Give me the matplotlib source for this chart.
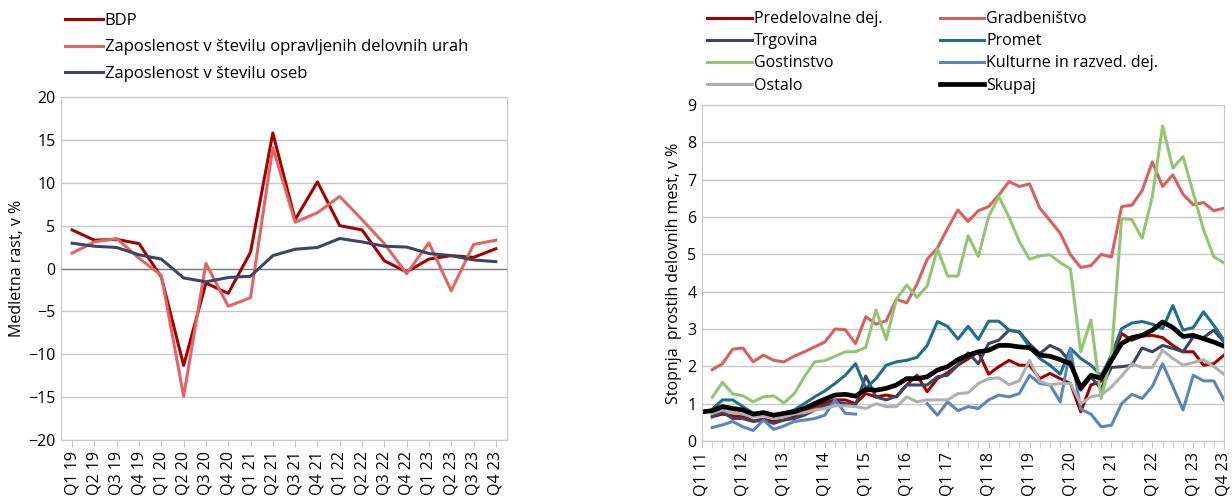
import numpy as np
import matplotlib.pyplot as plt

plt.rcParams['font.family'] = ['Open Sans', 'DejaVu Sans']

# levo: medletna rast (cetrtletja)
kvartali = ['Q1 19', 'Q2 19', 'Q3 19', 'Q4 19', 'Q1 20', 'Q2 20', 'Q3 20', 'Q4 20',
            'Q1 21', 'Q2 21', 'Q3 21', 'Q4 21', 'Q1 22', 'Q2 22', 'Q3 22', 'Q4 22',
            'Q1 23', 'Q2 23', 'Q3 23', 'Q4 23']
bdp = [4.5, 3.3, 3.4, 2.9, -1.0, -11.3, -1.7, -2.9, 1.9, 15.8, 5.7, 10.1,
       5.0, 4.5, 0.9, -0.4, 1.1, 1.5, 1.3, 2.3]
ure = [1.8, 3.1, 3.5, 1.2, -0.8, -14.9, 0.6, -4.4, -3.4, 14.1, 5.4, 6.5,
       8.4, 5.7, 2.9, -0.6, 3.0, -2.6, 2.8, 3.3]
osebe = [2.95, 2.6, 2.45, 1.6, 1.1, -1.1, -1.55, -1.05, -0.9, 1.5, 2.25, 2.45,
         3.5, 3.1, 2.6, 2.5, 1.75, 1.5, 1.0, 0.8]

# desno: stopnja prostih delovnih mest, Q1 11 - Q4 23
q_desno = [f'Q{q} {l}' for l in range(11, 24) for q in range(1, 5)]
nan = np.nan
predelovalne = [nan, 0.65, 0.72, 0.67, 0.65, 0.54, 0.58, 0.52, 0.56, 0.65, 0.76, 0.92, 1.02,
                1.1, 1.1, 1.0, 1.27, 1.18, 1.23, 1.18, 1.5, 1.76, 1.32, 1.67, 1.83, 2.03,
                2.2, 2.39, 1.79, 1.99, 2.16, 2.03, 2.03, 1.67, 1.81, 1.67, 1.54, 0.78, 1.5,
                1.6, 2.2, 2.88, 2.7, 2.81, 2.83, 2.77, 2.56, 2.39, 2.39, 2.03, 2.07, 2.3]
gradbenistvo = [nan, 1.91, 2.07, 2.46, 2.49, 2.12, 2.30, 2.16, 2.12, 2.27, 2.39, 2.52, 2.65,
                3.0, 2.98, 2.61, 3.33, 3.13, 3.22, 3.8, 3.7, 4.2, 4.87, 5.17, 5.7, 6.19,
                5.88, 6.17, 6.28, 6.59, 6.95, 6.82, 6.89, 6.24, 5.91, 5.57, 4.99, 4.65, 4.70,
                5.0, 4.93, 6.28, 6.32, 6.71, 7.48, 6.82, 7.13, 6.61, 6.33, 6.39, 6.17, 6.24]
trgovina = [nan, 0.65, 0.78, 0.6, 0.6, 0.52, 0.56, 0.47, 0.56, 0.6, 0.69, 0.83, 0.95,
            1.05, 1.0, 0.96, 1.74, 1.18, 1.1, 1.2, 1.5, 1.5, 1.5, 1.72, 1.76, 2.03,
            2.36, 2.07, 2.61, 2.7, 2.97, 2.92, 2.6, 2.34, 2.56, 2.43, 2.12, 1.36, 1.72,
            1.4, 1.97, 1.99, 2.03, 2.49, 2.39, 2.56, 2.48, 2.39, 2.79, 2.77, 2.97, 2.65]
promet = [nan, 0.85, 1.1, 1.1, 0.92, 0.74, 0.74, 0.65, 0.74, 0.83, 1.0, 1.18, 1.34,
          1.54, 1.76, 2.07, 1.41, 1.67, 2.03, 2.12, 2.16, 2.24, 2.56, 3.2, 3.07, 2.73,
          3.07, 2.72, 3.21, 3.21, 2.97, 2.92, 2.52, 2.21, 2.03, 1.79, 2.48, 2.21, 2.03,
          1.75, 2.3, 3.01, 3.16, 3.2, 3.13, 3.01, 3.63, 2.97, 3.04, 3.46, 3.1, 2.7]
gostinstvo = [nan, 1.17, 1.57, 1.26, 1.21, 1.05, 1.18, 1.21, 1.02, 1.26, 1.72, 2.12, 2.15,
              2.27, 2.39, 2.39, 2.51, 3.51, 2.72, 3.8, 4.18, 3.85, 4.15, 5.15, 4.42, 4.42,
              5.5, 4.94, 6.01, 6.55, 6.0, 5.35, 4.87, 4.96, 4.99, 4.78, 4.61, 2.39, 3.24,
              1.14, 2.28, 5.96, 5.93, 5.43, 6.55, 8.44, 7.31, 7.62, 6.64, 5.66, 4.94, 4.77]
kulturne = [nan, 0.36, 0.43, 0.52, 0.38, 0.28, 0.56, 0.31, 0.4, 0.52, 0.56, 0.6, 0.69,
            1.1, 0.74, 0.72, nan, nan, nan, nan, nan, nan, 1.0, 0.69, 1.05, 0.81,
            0.92, 0.87, 1.1, 1.23, 1.18, 1.27, 1.76, 1.54, 1.5, 1.05, 2.47, 0.85, 0.72,
            0.38, 0.42, 1.0, 1.25, 1.14, 1.46, 2.07, 1.46, 0.83, 1.76, 1.61, 1.61, 1.1]
ostalo = [nan, 0.74, 0.83, 0.76, 0.72, 0.65, 0.67, 0.6, 0.65, 0.72, 0.76, 0.83, 0.87,
          0.94, 0.94, 0.92, 0.87, 1.0, 0.92, 0.92, 1.18, 1.05, 1.1, 1.1, 1.1, 1.27,
          1.29, 1.54, 1.67, 1.69, 1.51, 1.61, 2.16, 1.6, 1.5, 1.54, 1.54, 1.0, 1.18,
          1.23, 1.45, 1.74, 2.07, 1.97, 1.97, 2.43, 2.21, 2.03, 2.1, 2.18, 1.99, 1.79]
skupaj = [0.78, 0.81, 0.92, 0.87, 0.83, 0.72, 0.76, 0.69, 0.74, 0.78, 0.87, 1.0, 1.12,
          1.23, 1.25, 1.2, 1.38, 1.36, 1.41, 1.5, 1.67, 1.67, 1.72, 1.9, 1.99, 2.18,
          2.3, 2.39, 2.43, 2.56, 2.56, 2.52, 2.5, 2.3, 2.27, 2.18, 2.07, 1.42, 1.76,
          1.68, 2.16, 2.61, 2.77, 2.83, 2.97, 3.19, 3.04, 2.8, 2.83, 2.74, 2.65, 2.54]

grid_c = '#c8c8c8'
fs = 11.5

fig = plt.figure(figsize=(12.32, 4.96), dpi=100)
ax1 = fig.add_axes([0.0495, 0.1129, 0.362, 0.6915])
ax2 = fig.add_axes([0.5698, 0.111, 0.4237, 0.677])

# ---- levi graf
x1 = np.arange(len(kvartali))
ax1.plot(x1, bdp, color='#a50000', lw=2.2, label='BDP')
ax1.plot(x1, ure, color='#e06666', lw=2.2, label='Zaposlenost v številu opravljenih delovnih urah')
ax1.plot(x1, osebe, color='#3b4663', lw=2.2, label='Zaposlenost v številu oseb')
ax1.axhline(0, color='#808080', lw=1, zorder=1)
ax1.set_xlim(-0.5, len(kvartali) - 0.5)
ax1.set_ylim(-20, 20)
ax1.set_yticks(np.arange(-20, 21, 5))
ax1.set_xticks(x1)
ax1.set_xticklabels(kvartali, rotation=90, fontsize=fs)
ax1.set_ylabel('Medletna rast, v %', fontsize=fs, labelpad=2)
ax1.grid(axis='y', color=grid_c, lw=1)
ax1.set_axisbelow(True)
ax1.legend(loc='upper left', bbox_to_anchor=(0.047, 0.987), bbox_transform=fig.transFigure,
           frameon=False, fontsize=12, handlelength=2.3, handletextpad=0.1,
           labelspacing=0.62, borderaxespad=0)

# ---- desni graf
x2 = np.arange(len(q_desno))
serije = [
    (predelovalne, 'Predelovalne dej.', '#a50000', 2.2),
    (gradbenistvo, 'Gradbeništvo', '#d9605e', 2.2),
    (trgovina, 'Trgovina', '#3b4663', 2.2),
    (promet, 'Promet', '#1f6f8b', 2.2),
    (gostinstvo, 'Gostinstvo', '#93c572', 2.2),
    (kulturne, 'Kulturne in razved. dej.', '#5b85bd', 2.2),
    (ostalo, 'Ostalo', '#b0b0b0', 2.2),
    (skupaj, 'Skupaj', '#000000', 3.4),
]
crte = []
for vals, lab, col, lw in serije:
    crte += ax2.plot(x2, vals, color=col, lw=lw, label=lab)
ax2.set_xlim(0, len(q_desno) - 1)
ax2.set_ylim(0, 9)
ax2.set_yticks(np.arange(0, 10, 1))
ax2.set_xticks(x2, minor=True)
major = list(range(0, len(q_desno), 4)) + [len(q_desno) - 1]
ax2.set_xticks(major)
ax2.set_xticklabels([q_desno[i] for i in major], rotation=90, fontsize=fs)
ax2.set_ylabel('Stopnja  prostih delovnih mest, v %', fontsize=fs, labelpad=4)
ax2.grid(axis='y', color=grid_c, lw=1)
ax2.set_axisbelow(True)
# legenda po vrsticah (dva stolpca)
red = crte[0::2] + crte[1::2]
ax2.legend(red, [c.get_label() for c in red], loc='upper left',
           bbox_to_anchor=(0.569, 0.99), bbox_transform=fig.transFigure,
           frameon=False, fontsize=11.5, ncol=2, handlelength=2.8, handletextpad=0.1,
           labelspacing=0.38, columnspacing=3.6, borderaxespad=0)

for ax in (ax1, ax2):
    for s in ax.spines.values():
        s.set_color(grid_c)
    ax.tick_params(axis='y', length=0, labelsize=fs, pad=4)
    ax.tick_params(axis='x', which='both', length=5, color=grid_c, pad=3)

fig.savefig('out.png', dpi=100)
